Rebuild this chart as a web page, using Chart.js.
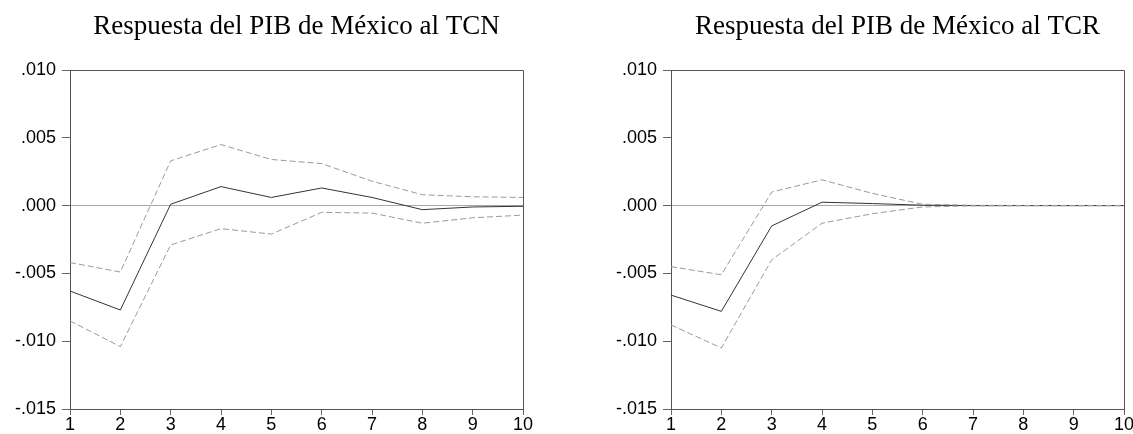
<!DOCTYPE html>
<html>
<head>
<meta charset="utf-8">
<script src="https://cdn.jsdelivr.net/npm/chart.js@4.4.0/dist/chart.umd.min.js"></script>
<style>
    html, body { margin: 0; padding: 0; background: #fff; overflow: hidden; width: 1133px; height: 434px; }
    .box { position: absolute; top: 0; width: 593px; height: 434px; }
</style>
</head>
<body>
<div class="box" style="left:0px"><canvas id="chartTCN"></canvas></div>
<div class="box" style="left:601px"><canvas id="chartTCR"></canvas></div>
<script>
var periods = [1, 2, 3, 4, 5, 6, 7, 8, 9, 10];

var tcnResp  = [-0.0063, -0.0077, 0.0001, 0.0014, 0.0006, 0.0013, 0.0006, -0.0003, -0.0001, -0.00005];
var tcnUpper = [-0.0042, -0.0049, 0.0033, 0.0045, 0.0034, 0.0031, 0.0018, 0.0008, 0.00065, 0.0006];
var tcnLower = [-0.0085, -0.0104, -0.0029, -0.0017, -0.0021, -0.0005, -0.00055, -0.0013, -0.0009, -0.0007];

var tcrResp  = [-0.0066, -0.0078, -0.0015, 0.00025, 0.00015, 0.00003, 0, 0, 0, 0];
var tcrUpper = [-0.0045, -0.0051, 0.0010, 0.0019, 0.0009, 0.0001, 0.00002, 0.00001, 0.00001, 0.00001];
var tcrLower = [-0.0088, -0.0105, -0.0040, -0.0013, -0.0006, -0.0001, -0.00002, -0.00001, -0.00001, -0.00001];

var yTickValues = [-0.015, -0.010, -0.005, 0.000, 0.005, 0.010];

function fmtTick(v) {
    var s = Math.abs(v).toFixed(3).replace(/^0/, '');
    return (v < -1e-9 ? '-' : '') + s;
}

function toPoints(vals) {
    return periods.map(function(p, i) { return { x: p, y: vals[i] }; });
}

// top and right sides of the box
var framePlugin = {
    id: 'frame',
    afterDraw: function(chart) {
        var a = chart.chartArea, c = chart.ctx;
        c.save();
        c.strokeStyle = '#555';
        c.lineWidth = 1;
        c.beginPath();
        c.moveTo(a.left, a.top + 0.5);
        c.lineTo(a.right + 0.5, a.top + 0.5);
        c.lineTo(a.right + 0.5, a.bottom);
        c.stroke();
        c.restore();
    }
};

function makeChart(id, title, resp, upper, lower) {
    var ctx = document.getElementById(id).getContext('2d');
    return new Chart(ctx, {
        type: 'line',
        data: {
            datasets: [
                { data: toPoints(upper), borderColor: '#9a9a9a', borderWidth: 1, borderDash: [6, 3], pointRadius: 0, fill: false, tension: 0 },
                { data: toPoints(lower), borderColor: '#9a9a9a', borderWidth: 1, borderDash: [6, 3], pointRadius: 0, fill: false, tension: 0 },
                { data: toPoints(resp), borderColor: '#333', borderWidth: 1, pointRadius: 0, fill: false, tension: 0 }
            ]
        },
        options: {
            responsive: true,
            maintainAspectRatio: false,
            animation: false,
            layout: { padding: { left: 0, right: 70, top: 0, bottom: 0 } },
            plugins: {
                legend: { display: false },
                tooltip: { enabled: false }
            },
            scales: {
                x: {
                    type: 'linear',
                    min: 1,
                    max: 10,
                    afterFit: function(s) { s.height = 25; },
                    afterBuildTicks: function(s) { s.ticks = periods.map(function(p) { return { value: p }; }); },
                    ticks: { color: '#000', font: { family: 'Liberation Sans', size: 18 }, padding: -1, maxRotation: 0 },
                    grid: { drawOnChartArea: false, tickLength: 6, tickColor: '#666' },
                    border: { display: true, color: '#555', width: 1 }
                },
                // top axis only carries the title, centred over the plot
                xTop: {
                    type: 'linear',
                    position: 'top',
                    min: 1,
                    max: 10,
                    ticks: { display: false },
                    grid: { display: false, drawTicks: false },
                    border: { display: false },
                    title: {
                        display: true,
                        text: title,
                        color: '#000',
                        font: { family: 'Liberation Serif', size: 27, weight: 'normal', lineHeight: 1.2 },
                        padding: { top: 11, bottom: 26.6 }
                    }
                },
                y: {
                    min: -0.015,
                    max: 0.010,
                    afterFit: function(s) { s.width = 70; },
                    afterBuildTicks: function(s) { s.ticks = yTickValues.map(function(v) { return { value: v }; }); },
                    ticks: { color: '#000', font: { family: 'Liberation Sans', size: 18 }, padding: 6, callback: function(v) { return fmtTick(v); } },
                    grid: {
                        color: function(c) { return (c.tick && Math.abs(c.tick.value) < 1e-9) ? '#a8a8a8' : 'rgba(0,0,0,0)'; },
                        tickColor: '#666',
                        tickLength: 8,
                        drawOnChartArea: true
                    },
                    border: { display: true, color: '#555', width: 1 }
                }
            }
        },
        plugins: [framePlugin]
    });
}

makeChart('chartTCN', 'Respuesta del PIB de México al TCN', tcnResp, tcnUpper, tcnLower);
makeChart('chartTCR', 'Respuesta del PIB de México al TCR', tcrResp, tcrUpper, tcrLower);
</script>
</body>
</html>
